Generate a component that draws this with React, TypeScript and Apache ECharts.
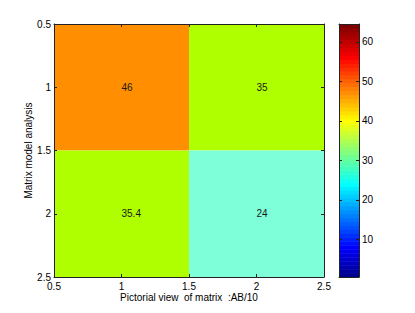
import React, { useEffect, useRef } from "react";
import * as echarts from "echarts";

const xCategories = [1, 2];
const yCategories = [1, 2];
const values = [
  [46, 35],
  [35.4, 24],
];
const cellColors = [
  ["#FF8F00", "#AFFF00"],
  ["#AFFF00", "#7FFFD9"],
];
const axisTicks = ["0.5", "1", "1.5", "2", "2.5"];
const colorbarLevels = Array.from({ length: 64 }, (_, i) => i + 1);
const xTitle = "Pictorial view  of matrix  :AB/10";
const yTitle = "Matrix model analysis";

const FONT = "Liberation Sans, Arial, Helvetica, sans-serif";
const AX = "#222";

function u(i: number) {
  if (i < 1 || i > 47) return 0;
  if (i <= 16) return i / 16;
  if (i <= 31) return 1;
  return (48 - i) / 16;
}
function jet(k: number) {
  const r = Math.round(u(k - 24) * 255);
  const g = Math.round(u(k - 8) * 255);
  const b = Math.round(u(k + 8) * 255);
  return `rgb(${r},${g},${b})`;
}

export default function App() {
  const ref = useRef<HTMLDivElement>(null);
  useEffect(() => {
    const chart = echarts.init(ref.current!, null, { renderer: "svg" });
    const cellData: any[] = [];
    yCategories.forEach((yv, r) =>
      xCategories.forEach((xv, c) => {
        cellData.push({ value: [xv, yv, values[r][c]], color: cellColors[r][c] });
      })
    );
    const baseAxis = {
      axisLine: { show: true, onZero: false, lineStyle: { color: AX, width: 1 } },
      axisTick: { show: true, inside: true, length: 3, lineStyle: { color: AX } },
      splitLine: { show: false },
      z: 5,
    };
    chart.setOption({
      animation: false,
      backgroundColor: "#fff",
      textStyle: { fontFamily: FONT },
      grid: [
        { left: 54, top: 24, width: 270, height: 253 },
        { left: 339, top: 24, width: 20, height: 253 },
      ],
      xAxis: [
        {
          ...baseAxis,
          gridIndex: 0,
          type: "value",
          min: 0.5,
          max: 2.5,
          interval: 0.5,
          position: "bottom",
          axisLabel: {
            margin: 4,
            fontSize: 10,
            color: "#000",
            fontFamily: FONT,
            formatter: (v: number) => axisTicks.find((t) => Number(t) === v) ?? "",
          },
          name: xTitle,
          nameLocation: "middle",
          nameGap: 15,
          nameMoveOverlap: false,
          nameTextStyle: { fontSize: 10, color: "#000", fontFamily: FONT },
        },
        {
          ...baseAxis,
          gridIndex: 0,
          type: "value",
          min: 0.5,
          max: 2.5,
          interval: 0.5,
          position: "top",
          axisLabel: { show: false },
        },
        {
          gridIndex: 1,
          type: "value",
          min: 0,
          max: 1,
          position: "bottom",
          axisLine: { show: true, onZero: false, lineStyle: { color: AX } },
          axisTick: { show: false },
          axisLabel: { show: false },
          splitLine: { show: false },
          z: 5,
        },
        {
          gridIndex: 1,
          type: "value",
          min: 0,
          max: 1,
          position: "top",
          axisLine: { show: true, onZero: false, lineStyle: { color: AX } },
          axisTick: { show: false },
          axisLabel: { show: false },
          splitLine: { show: false },
          z: 5,
        },
      ],
      yAxis: [
        {
          ...baseAxis,
          gridIndex: 0,
          type: "value",
          inverse: true,
          min: 0.5,
          max: 2.5,
          interval: 0.5,
          position: "left",
          axisLabel: {
            margin: 3,
            fontSize: 10,
            color: "#000",
            fontFamily: FONT,
            formatter: (v: number) => axisTicks.find((t) => Number(t) === v) ?? "",
          },
          name: yTitle,
          nameLocation: "middle",
          nameRotate: 90,
          nameGap: 21,
          nameMoveOverlap: false,
          nameTextStyle: { fontSize: 10, color: "#000", fontFamily: FONT },
        },
        {
          ...baseAxis,
          gridIndex: 0,
          type: "value",
          inverse: true,
          min: 0.5,
          max: 2.5,
          interval: 0.5,
          position: "right",
          axisLabel: { show: false },
        },
        {
          ...baseAxis,
          gridIndex: 1,
          type: "value",
          min: 0.5,
          max: 64.5,
          splitNumber: 6,
          position: "right",
          axisLabel: {
            margin: 3,
            fontSize: 10,
            color: "#000",
            fontFamily: FONT,
            showMinLabel: false,
            showMaxLabel: false,
            formatter: (v: number) => (v % 10 === 0 ? String(v) : ""),
          },
        },
        {
          ...baseAxis,
          gridIndex: 1,
          type: "value",
          min: 0.5,
          max: 64.5,
          splitNumber: 6,
          position: "left",
          axisLabel: { show: false },
        },
      ],
      series: [
        {
          type: "custom",
          xAxisIndex: 0,
          yAxisIndex: 0,
          data: cellData,
          renderItem: (params: any, api: any) => {
            const x = api.value(0);
            const y = api.value(1);
            const v = api.value(2);
            const p1 = api.coord([x - 0.5, y - 0.5]);
            const p2 = api.coord([x + 0.5, y + 0.5]);
            const c = api.coord([x, y]);
            const color = cellData[params.dataIndex].color;
            return {
              type: "group",
              children: [
                {
                  type: "rect",
                  shape: {
                    x: Math.min(p1[0], p2[0]),
                    y: Math.min(p1[1], p2[1]),
                    width: Math.abs(p2[0] - p1[0]),
                    height: Math.abs(p2[1] - p1[1]),
                  },
                  style: { fill: color },
                },
                {
                  type: "text",
                  x: c[0],
                  y: c[1],
                  style: {
                    text: String(v),
                    fill: "#1a1a1a",
                    fontSize: 10,
                    fontFamily: FONT,
                    align: "left",
                    verticalAlign: "middle",
                  },
                },
              ],
            };
          },
        },
        {
          type: "custom",
          xAxisIndex: 2,
          yAxisIndex: 2,
          data: colorbarLevels.map((k) => [0, k]),
          renderItem: (params: any, api: any) => {
            const k = api.value(1);
            const p1 = api.coord([0, k - 0.5]);
            const p2 = api.coord([1, k + 0.5]);
            return {
              type: "rect",
              shape: {
                x: p1[0],
                y: Math.min(p1[1], p2[1]),
                width: p2[0] - p1[0],
                height: Math.abs(p1[1] - p2[1]) + 0.5,
              },
              style: { fill: jet(k) },
            };
          },
        },
      ],
    });
    return () => chart.dispose();
  }, []);
  return (
    <div
      ref={ref}
      style={{ position: "fixed", left: 0, top: 0, width: 415, height: 313, background: "#fff" }}
    />
  );
}
